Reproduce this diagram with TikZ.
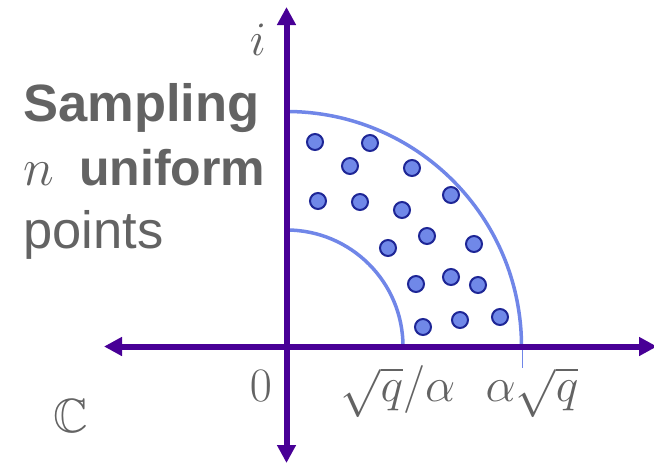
\RequirePackage{fix-cm}
\documentclass[tikz,border=0pt]{standalone}
\usepackage{amssymb}
\usepackage{fontspec}
\setmainfont{Liberation Sans}
\usetikzlibrary{arrows.meta}
\definecolor{axiscol}{RGB}{72,0,150}
\definecolor{arccol}{RGB}{112,134,232}
\definecolor{dotfill}{RGB}{112,136,232}
\definecolor{dotline}{RGB}{30,38,150}
\definecolor{txtgray}{RGB}{99,99,99}
\tikzset{
  axisline/.style={draw=axiscol, line width=6pt, {Triangle[length=18pt,width=18pt]}-{Triangle[length=18pt,width=18pt]}},
  arcline/.style={draw=arccol, line width=3.5pt},
  sample/.style={circle, fill=dotfill, draw=dotline, line width=2pt, minimum size=16pt, inner sep=0pt},
  lbl/.style={text=txtgray, inner sep=0pt, font=\fontsize{52.5}{63}\selectfont},
  mlbl/.style={text=txtgray, inner sep=0pt, font=\fontsize{48}{58}\selectfont},
}
\begin{document}
\begin{tikzpicture}[x=1pt,y=-1pt]
\useasboundingbox (0,0) rectangle (654,464);
\begin{scope}
\clip (0,0) rectangle (654,464);
% arcs
\draw[arcline] (403,346.5) arc[start angle=0,end angle=-90,radius=116.5];
\draw[arcline] (521.5,346.5) arc[start angle=0,end angle=-90,radius=235];
\coordinate (tA) at (522,346.5);
\coordinate (tB) at (522,368);
\draw[arccol, line width=1pt] (tA) -- (tB);
% axes
\coordinate (xl) at (104,346.5);
\coordinate (xr) at (657,346.5);
\coordinate (yt) at (286.5,7);
\coordinate (yb) at (286.5,463);
\draw[axisline] (xl) -- (xr);
\draw[axisline] (yb) -- (yt);
\end{scope}
% sample points
\foreach \x/\y [count=\k] in {315/142,370/143,350/166,412/168,318/201,360/202,402/210,451/195,427/236,388/248,474/244,416/284,451/277,478/285,423/327,460/320,500/317}
  \node[sample] (d\k) at (\x,\y) {};
% labels
\node[lbl, anchor=base west] (l1) at (23,121) {\textbf{Sampling}};
\node[lbl, anchor=base west] (l2n) at (23,185) {$n$};
\node[lbl, anchor=base west, font=\fontsize{50}{60}\selectfont] (l2) at (79,185) {\textbf{uniform}};
\node[lbl, anchor=base west] (l3) at (23,248) {points};
\node[mlbl, anchor=base] (li) at (258,55) {$i$};
\node[mlbl, anchor=base] (l0) at (261,401) {$0$};
\node[mlbl, anchor=base] (la) at (398,401) {$\sqrt{q}/\alpha$};
\node[mlbl, anchor=base] (lb) at (532,401) {$\alpha\sqrt{q}$};
\node[mlbl, anchor=base] (lc) at (71,432) {$\mathbb{C}$};
\end{tikzpicture}
\end{document}
